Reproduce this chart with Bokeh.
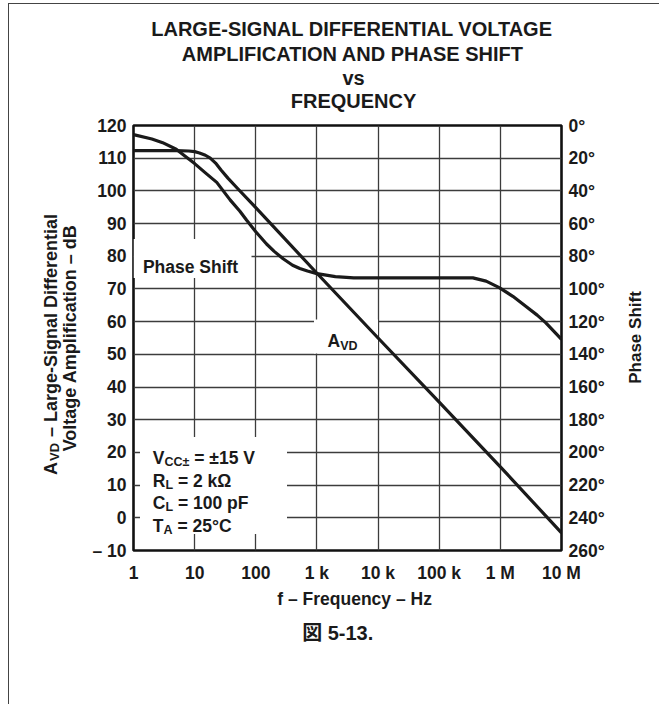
import math
from bokeh.plotting import figure
from bokeh.models import Range1d, LinearAxis, FixedTicker, Label, Title
from bokeh.embed import file_html
from bokeh.resources import INLINE

# ---------------- data ----------------
freq_ticks = [1, 10, 100, 1000, 10000, 100000, 1000000, 10000000]
freq_tick_labels = ["1", "10", "100", "1 k", "10 k", "100 k", "1 M", "10 M"]
db_ticks = [-10, 0, 10, 20, 30, 40, 50, 60, 70, 80, 90, 100, 110, 120]
db_tick_labels = ["– 10", "0", "10", "20", "30", "40", "50", "60", "70", "80", "90", "100", "110", "120"]
phase_ticks = [0, 20, 40, 60, 80, 100, 120, 140, 160, 180, 200, 220, 240, 260]
phase_tick_labels = ["0°", "20°", "40°", "60°", "80°", "100°", "120°", "140°", "160°",
                     "180°", "200°", "220°", "240°", "260°"]

avd_freq = [1, 5, 8, 10, 12, 15, 18, 22, 27, 35, 50, 100, 1000, 10000, 100000, 1000000, 10000000]
avd_db = [112.3, 112.3, 112.2, 112.0, 111.6, 110.9, 110.0, 108.5, 106.4, 103.9, 100.8, 94.9,
          74.8, 55.0, 35.4, 15.6, -4.6]

phase_freq = [1, 2, 3, 5, 7, 10, 15, 23, 38, 55, 71, 100, 150, 200, 280, 400, 525, 700, 1000,
              2000, 4000, 100000, 355000, 585000, 960000, 1600000, 2600000, 4000000, 5500000, 10000000]
phase_deg = [5.6, 8.3, 10.5, 14.5, 18.8, 23.3, 29.0, 34.8, 45.5, 52.5, 58.0, 65.0, 72.5, 77.0, 81.5,
             85.5, 87.5, 89.0, 90.6, 92.5, 93.2, 93.2, 93.2, 95.2, 99.2, 104.5, 110.6, 116.0, 120.6, 130.8]

# ---------------- layout ----------------
X0, Y0 = 9.5, 4.5                        # canvas origin on the page
BL, BT, FW, FH = 124, 121, 428, 425      # borders / frame size (canvas px)
W, H = 650, 700
FL, FT = X0 + BL, Y0 + BT                # frame, page px
FB = FT + FH
FONT = "Liberation Sans"
INK = "#1a1a1a"
NB = "\u00a0"

def px2f(xp):
    return 10 ** ((xp - FL) * 7.0 / FW)

def py2db(yp):
    return 120 - (yp - FT) * 130.0 / FH

AW = {" ": 278, NB: 278, "–": 556, "-": 333, ".": 278, "=": 584, "±": 549, "°": 400, "Ω": 768,
      "図": 1000,
      "A": 722, "C": 722, "D": 722, "E": 667, "F": 611, "G": 778, "H": 722, "I": 278, "L": 611,
      "M": 833, "N": 722, "O": 778, "P": 667, "Q": 778, "R": 722, "S": 667, "T": 611, "U": 722,
      "V": 667, "Y": 667,
      "a": 556, "c": 556, "e": 556, "f": 333, "n": 611, "q": 611, "r": 389, "s": 556, "u": 611,
      "v": 556, "y": 556, "z": 500}

def tw(s, size):
    return sum(AW.get(ch, 556) for ch in s) / 1000.0 * size

p = figure(x_axis_type="log", x_range=Range1d(1, 1e7), y_range=Range1d(-10, 120),
           frame_width=FW, frame_height=FH,
           min_border_left=BL, min_border_top=BT,
           min_border_right=W - BL - FW, min_border_bottom=H - BT - FH,
           output_backend="svg", toolbar_location=None,
           background_fill_color="white", border_fill_color="white")
p.extra_y_ranges = {"phase": Range1d(start=260, end=0)}

p.outline_line_color = "#111111"
p.outline_line_width = 2.6

# grid
p.xgrid.ticker = FixedTicker(ticks=freq_ticks)
p.ygrid.ticker = FixedTicker(ticks=db_ticks)
for g in (p.xgrid, p.ygrid):
    g.grid_line_color = "#3c3c3c"
    g.grid_line_width = 1.3
p.xgrid.minor_grid_line_color = None

def style_axis(ax, standoff, size="17.5px"):
    ax.axis_line_color = None
    ax.major_tick_line_color = None
    ax.minor_tick_line_color = None
    ax.major_tick_out = 0
    ax.major_tick_in = 0
    ax.minor_tick_out = 0
    ax.minor_tick_in = 0
    ax.major_label_text_font = FONT
    ax.major_label_text_font_style = "bold"
    ax.major_label_text_font_size = size
    ax.major_label_text_color = INK
    ax.major_label_standoff = standoff

xa = p.xaxis[0]
xa.ticker = FixedTicker(ticks=freq_ticks)
xa.major_label_overrides = {t: l for t, l in zip(freq_ticks, freq_tick_labels)}
style_axis(xa, 12)

ya = p.yaxis[0]
ya.ticker = FixedTicker(ticks=db_ticks)
ya.major_label_overrides = {t: l for t, l in zip(db_ticks, db_tick_labels)}
style_axis(ya, 7)
ya.axis_label = "Voltage Amplification – dB"
ya.axis_label_text_font = FONT
ya.axis_label_text_font_style = "bold"
ya.axis_label_text_font_size = "18px"
ya.axis_label_text_color = INK
ya.axis_label_standoff = 9

ra = LinearAxis(y_range_name="phase", ticker=FixedTicker(ticks=phase_ticks))
ra.major_label_overrides = {t: l for t, l in zip(phase_ticks, phase_tick_labels)}
style_axis(ra, 7)
p.add_layout(ra, "right")

# right-hand title "Phase Shift" (reads bottom to top)
rt = LinearAxis(y_range_name="phase", ticker=FixedTicker(ticks=[158]))
rt.major_label_overrides = {158: "Phase Shift"}
rt.major_label_orientation = math.pi / 2
style_axis(rt, 28, "17px")
p.add_layout(rt, "right")

# white masks behind in-plot annotations (page pixel boxes)
def mask(x0, x1, y0, y1):
    p.quad(left=[px2f(x0)], right=[px2f(x1)], top=[py2db(y0)], bottom=[py2db(y1)],
           fill_color="white", line_color=None)

mask(FL, 251.5, 239, 278)
mask(140, 287, 437, 534)
mask(314, 378, 319.5, 353.5)

# curves
p.line(avd_freq, avd_db, line_color=INK, line_width=3.2, line_join="round")
p.line(phase_freq, phase_deg, y_range_name="phase", line_color=INK, line_width=3.2, line_join="round")

def lab(xp, yp, text, size):
    p.add_layout(Label(x=px2f(xp), y=py2db(yp), text=text, text_font=FONT,
                       text_font_size=f"{size}px", text_font_style="bold", text_color=INK,
                       text_align="left", text_baseline="alphabetic"))

# in-plot labels
lab(142.9, 266.8, "Phase Shift", 17.5)
lab(327.6, 341.2, "A", 17.5)
lab(327.6 + tw("A", 17.5), 345.5, "VD", 12.5)

x0 = 152.8
for main, sub, rest, yb in [("V", "CC±", "= ±15 V", 458.3), ("R", "L", "= 2 kΩ", 480.7),
                            ("C", "L", "= 100 pF", 503.3), ("T", "A", "= 25°C", 525.7)]:
    lab(x0, yb, main, 17.5)
    xs = x0 + tw(main, 17.5)
    lab(xs, yb + 4, sub, 12.5)
    lab(xs + tw(sub, 12.5) + tw(" ", 17.5), yb, rest, 17.5)

def title(text, side, size, standoff, offset, valign="top", font=FONT):
    p.add_layout(Title(text=text, text_font=font, text_font_size=f"{size}px",
                       text_font_style="bold", text_color=INK, align="left",
                       vertical_align=valign, standoff=standoff, offset=offset), side)

def hoff(text, size, center):
    return center - tw(text, size) / 2 - FL

# chart title: a spacer next to the frame, then the lines, nearest the frame first
TS = 20
title(NB, "above", 10, -1.05, 0)
for txt, so in [("FREQUENCY", -0.7), ("vs", -0.7), ("AMPLIFICATION AND PHASE SHIFT", 0.9),
                ("LARGE-SIGNAL DIFFERENTIAL VOLTAGE", 2.1)]:
    title(txt, "above", TS, so, hoff(txt, TS, 353.5))

# x title and caption
title("f – Frequency – Hz", "below", 17.5, 7.2, hoff("f – Frequency – Hz", 17.5, 354.6))
title("図 5-13.", "below", 20, 14.6, hoff("図 5-13.", 20, 337.7),
      font="Liberation Sans, Noto Sans CJK JP")

# left title, first line with its subscript (outside the axis label)
title("VD", "left", 13, -11.4, FB - (475 - tw("A", 18) - 1), valign="middle")
title("A" + NB * 4 + " – Large-Signal Differential", "left", 18, -21.2, FB - 475, valign="middle")

p.styles = {"margin-left": "8px", "margin-top": "3px",
            "border-left": "1.5px solid #444", "border-top": "1.5px solid #444"}

open("out.html", "w").write(file_html(p, INLINE))
